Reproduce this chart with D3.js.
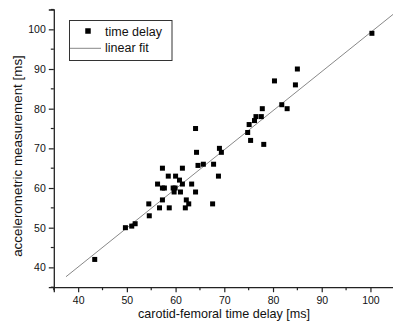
<!DOCTYPE html>
<html><head><meta charset="utf-8">
<script src="https://cdn.jsdelivr.net/npm/d3@7"></script>
<style>body{margin:0;background:#fff}svg{display:block}text{font-family:"Liberation Sans",Arial,sans-serif;fill:#111}</style>
</head><body>
<script>
const xValues = [100.3,85.0,84.6,80.3,81.8,82.9,77.8,77.6,76.5,76.2,75.1,74.8,75.4,78.1,69.0,69.4,64.3,64.1,65.7,64.6,67.8,68.8,67.6,61.4,57.3,58.5,60.0,60.8,63.3,61.4,56.3,57.3,57.7,59.5,59.9,59.7,61.0,64.1,57.3,62.2,62.7,62.0,58.7,56.7,54.5,54.6,51.7,51.0,49.7,43.4];
const yValues = [99,90,86,87,81,80,80,78,78,77,76,74,72,71,70,69,69,75,66,65.7,66,63,56,65,65,63,63,62,61,61,61,60,60,60,60,59,59,59,57,57,56,55,55,55,56,53,51,50.4,50,42];
const fitSlope = 0.985, fitIntercept = 0.7, fitStart = 37.5, fitEnd = 105;
const xTicks = [40,50,60,70,80,90,100];
const yTicks = [40,50,60,70,80,90,100];
const legendLabels = ["time delay","linear fit"];

const W=393,H=324;
const svg=d3.select("body").append("svg").attr("width",W).attr("height",H);
const x=d3.scaleLinear().domain([35,105]).range([53.8,394.8]);
const y=d3.scaleLinear().domain([35,105]).range([287.2,9.5]);
const axisColor="#222";

const gx=svg.append("g").attr("transform",`translate(0,${y(35)})`)
  .call(d3.axisBottom(x).tickValues(xTicks).tickSize(5).tickPadding(4).tickFormat(d3.format("d")));
const gy=svg.append("g").attr("transform",`translate(${x(35)},0)`)
  .call(d3.axisLeft(y).tickValues(yTicks).tickSize(5).tickPadding(3).tickFormat(d3.format("d")));
[gx,gy].forEach(g=>{g.select(".domain").attr("stroke",axisColor).attr("stroke-width",1.3);
  g.selectAll(".tick line").attr("stroke",axisColor).attr("stroke-width",1.2);
  g.selectAll(".tick text").attr("font-size",10.5).attr("fill","#111").attr("font-family","Liberation Sans, Arial, sans-serif");});
// minor ticks
const minor=[35,45,55,65,75,85,95,105];
svg.append("g").selectAll("line").data(minor).join("line")
  .attr("x1",d=>x(d)).attr("x2",d=>x(d)).attr("y1",y(35)).attr("y2",y(35)+3).attr("stroke",axisColor).attr("stroke-width",1.2);
svg.append("g").selectAll("line").data(minor).join("line")
  .attr("y1",d=>y(d)).attr("y2",d=>y(d)).attr("x1",x(35)).attr("x2",x(35)-3).attr("stroke",axisColor).attr("stroke-width",1.2);

// fit line
svg.append("line").attr("x1",x(fitStart)).attr("y1",y(fitSlope*fitStart+fitIntercept))
  .attr("x2",x(fitEnd)).attr("y2",y(fitSlope*fitEnd+fitIntercept)).attr("stroke","#888").attr("stroke-width",1);

// points
const s=5;
svg.append("g").selectAll("rect").data(xValues.map((v,i)=>[v,yValues[i]])).join("rect")
  .attr("x",d=>x(d[0])-s/2).attr("y",d=>y(d[1])-s/2).attr("width",s).attr("height",s).attr("fill","#000");

// legend
const lg=svg.append("g");
lg.append("rect").attr("x",69.5).attr("y",20.5).attr("width",102.5).attr("height",40).attr("fill","#fff").attr("stroke","#333").attr("stroke-width",1);
lg.append("rect").attr("x",88-2.75).attr("y",31-2.75).attr("width",5.5).attr("height",5.5).attr("fill","#000");
lg.append("line").attr("x1",70).attr("x2",101).attr("y1",48.3).attr("y2",48.3).attr("stroke","#888").attr("stroke-width",1);
lg.append("text").attr("x",105).attr("y",35.5).attr("font-size",12.5).text(legendLabels[0]);
lg.append("text").attr("x",105).attr("y",51.7).attr("font-size",12.5).text(legendLabels[1]);

// axis titles
svg.append("text").attr("x",224).attr("y",317.5).attr("text-anchor","middle").attr("font-size",12.6).text("carotid-femoral time delay [ms]");
svg.append("text").attr("transform","translate(22,156) rotate(-90)").attr("text-anchor","middle").attr("font-size",13.4).text("accelerometric measurement [ms]");
</script>
</body></html>
